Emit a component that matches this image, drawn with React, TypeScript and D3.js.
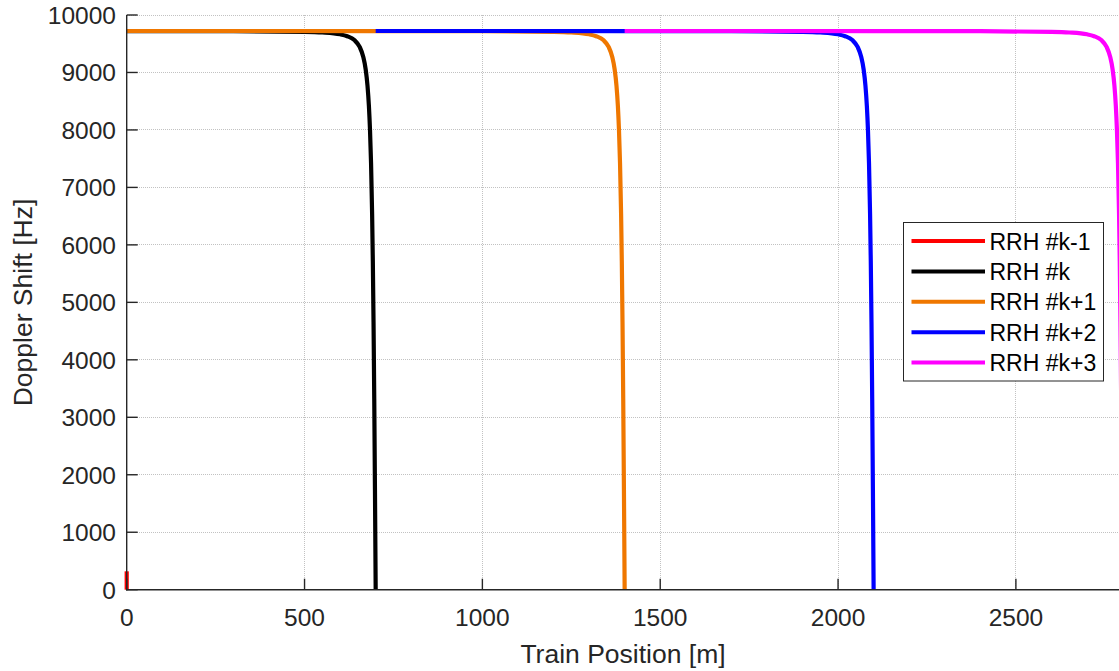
import React from "react";
import * as d3 from "d3";

// Tick values
const xTicks = [0, 500, 1000, 1500, 2000, 2500];
const yTicks = [0, 1000, 2000, 3000, 4000, 5000, 6000, 7000, 8000, 9000, 10000];

// Series (train position [m], Doppler shift [Hz])
const rrhKm1: [number, number][] = [[0, 0], [0, 320]];
const rrhK: [number, number][] = [
  [0, 9721], [300, 9718], [500, 9707], [550, 9696], [600, 9664], [620, 9631],
  [640, 9563], [655, 9444], [665, 9274], [672, 9049], [677, 8770], [681, 8414],
  [684, 8010], [687, 7422], [690, 6540], [692, 5718], [694, 4655], [696, 3323],
  [698, 1739], [700, 0],
];
const rrhKp1: [number, number][] = [
  [0, 9722], [700, 9721], [1000, 9718], [1200, 9707], [1250, 9696], [1300, 9664],
  [1320, 9631], [1340, 9563], [1355, 9444], [1365, 9274], [1372, 9049], [1377, 8770],
  [1381, 8414], [1384, 8010], [1387, 7422], [1390, 6540], [1392, 5718], [1394, 4655],
  [1396, 3323], [1398, 1739], [1400, 0],
];
const rrhKp2: [number, number][] = [
  [700, 9722], [1400, 9721], [1700, 9718], [1900, 9707], [1950, 9696], [2000, 9664],
  [2020, 9631], [2040, 9563], [2055, 9444], [2065, 9274], [2072, 9049], [2077, 8770],
  [2081, 8414], [2084, 8010], [2087, 7422], [2090, 6540], [2092, 5718], [2094, 4655],
  [2096, 3323], [2098, 1739], [2100, 0],
];
const rrhKp3: [number, number][] = [
  [1400, 9722], [2100, 9721], [2400, 9718], [2600, 9707], [2650, 9696], [2700, 9664],
  [2720, 9631], [2740, 9563], [2755, 9444], [2765, 9274], [2772, 9049], [2777, 8770],
  [2781, 8414], [2784, 8010], [2787, 7422], [2790, 6540], [2792, 5718], [2794, 4655],
  [2796, 3323], [2798, 1739], [2800, 0],
];

const seriesNames = ["RRH #k-1", "RRH #k", "RRH #k+1", "RRH #k+2", "RRH #k+3"];
const seriesColors = ["#ff0000", "#000000", "#ef7700", "#0000ff", "#ff00ff"];
const seriesData = [rrhKm1, rrhK, rrhKp1, rrhKp2, rrhKp3];

const W = 1119;
const H = 671;
const FONT = "'Liberation Sans', Arial, Helvetica, sans-serif";
const AX = "#262626";

export default function App() {
  const x = d3.scaleLinear().domain([0, 2800]).range([126.7, 1122.6]);
  const y = d3.scaleLinear().domain([0, 10000]).range([589.7, 15]);
  const smooth = d3
    .line<[number, number]>()
    .x((d) => x(d[0]))
    .y((d) => y(d[1]))
    .curve(d3.curveMonotoneX);
  const straight = d3
    .line<[number, number]>()
    .x((d) => x(d[0]))
    .y((d) => y(d[1]));

  const x0 = x(0);
  const xEnd = x(2800);
  const yTop = y(10000);
  const yBot = y(0);
  const snap = (v: number) => Math.round(v - 0.5) + 0.5;

  const legX = 903.5;
  const legY = 222.5;
  const legW = 200;
  const legH = 158.5;
  const rowY0 = 241;
  const rowStep = 30.4;

  return (
    <svg
      width={W}
      height={H}
      style={{ position: "absolute", left: 0, top: 0, background: "#fff" }}
      fontFamily={FONT}
    >
      <rect x={0} y={0} width={W} height={H} fill="#fff" />
      {/* grid */}
      <g stroke="#c2c2c2" strokeWidth={1} strokeDasharray="1 1" shapeRendering="crispEdges">
        {xTicks.filter((t) => t > 0).map((t) => (
          <line key={"gx" + t} x1={snap(x(t))} x2={snap(x(t))} y1={yTop} y2={yBot} />
        ))}
        {yTicks.filter((t) => t > 0).map((t) => (
          <line key={"gy" + t} x1={x0} x2={xEnd} y1={snap(y(t))} y2={snap(y(t))} />
        ))}
      </g>
      {/* series */}
      <g fill="none" strokeWidth={4.2} strokeLinejoin="round">
        {seriesData.map((d, i) => (
          <path
            key={seriesNames[i]}
            d={(i === 0 ? straight(d) : smooth(d)) || ""}
            stroke={seriesColors[i]}
          />
        ))}
      </g>
      {/* axes */}
      <g stroke={AX} strokeWidth={1.4} fill="none">
        <line x1={x0} x2={x0} y1={yTop} y2={yBot + 0.7} />
        <line x1={x0 - 0.7} x2={xEnd} y1={yBot} y2={yBot} />
        {xTicks.map((t) => (
          <line key={"tx" + t} x1={x(t)} x2={x(t)} y1={yBot} y2={yBot - 11} />
        ))}
        {yTicks.map((t) => (
          <line key={"ty" + t} x1={x0} x2={x0 + 11} y1={y(t)} y2={y(t)} />
        ))}
      </g>
      {/* tick labels */}
      <g fill={AX} fontSize={24.5}>
        {xTicks.map((t) => (
          <text key={"lx" + t} x={x(t)} y={626} textAnchor="middle">
            {t}
          </text>
        ))}
        {yTicks.map((t) => (
          <text key={"ly" + t} x={116} y={y(t) + 8.8} textAnchor="end">
            {t}
          </text>
        ))}
      </g>
      {/* axis labels */}
      <text x={623} y={663} textAnchor="middle" fontSize={26.5} fill={AX}>
        Train Position [m]
      </text>
      <text
        transform={`translate(32.3, 302.5) rotate(-90)`}
        textAnchor="middle"
        fontSize={26.5}
        fill={AX}
      >
        Doppler Shift [Hz]
      </text>
      {/* legend */}
      <rect x={legX} y={legY} width={legW} height={legH} fill="#fff" stroke={AX} strokeWidth={1} />
      {seriesNames.map((name, i) => {
        const ry = rowY0 + i * rowStep;
        return (
          <g key={"leg" + name}>
            <line x1={911.5} x2={985} y1={ry} y2={ry} stroke={seriesColors[i]} strokeWidth={4} />
            <text x={989.5} y={ry + 8.6} fontSize={23} fill="#000">
              {name}
            </text>
          </g>
        );
      })}
    </svg>
  );
}
